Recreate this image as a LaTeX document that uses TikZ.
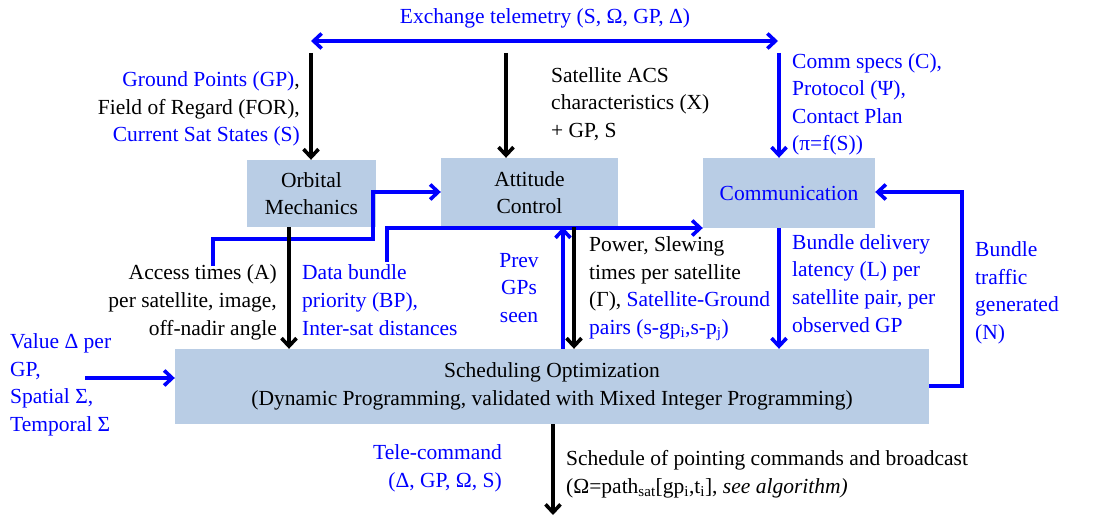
\documentclass[tikz,border=0pt]{standalone}
\usepackage{fontspec}
\setmainfont{Liberation Serif}
\usetikzlibrary{arrows.meta}
\definecolor{boxfill}{HTML}{B9CDE5}
\definecolor{linkblue}{HTML}{0000FF}
\tikzset{barb/.tip={Straight Barb[length=8pt,width=15pt,line width=3.6pt]}}

\begin{document}
\begin{tikzpicture}[x=1pt,y=-1pt,
  every node/.style={font=\fontsize{21.5}{27.6}\selectfont, inner sep=0pt},
  block/.style={fill=boxfill, draw=none, align=center},
  flow/.style={line width=3.8pt, black, -{barb}},
  bflow/.style={line width=3.8pt, linkblue, -{barb}},
  lab/.style={text=black},
  blab/.style={text=linkblue}
]
\useasboundingbox (0,0) rectangle (1104,516);

% processing blocks
\node[block, minimum width=129pt, minimum height=67pt] (orb) at (311.5,193.5) {Orbital\\Mechanics};
\node[block, minimum width=177pt, minimum height=69pt] (att) at (529.5,192.5) {Attitude\\Control};
\node[block, minimum width=172pt, minimum height=70pt, text=linkblue] (com) at (789,193) {Communication};
\node[block, minimum width=754pt, minimum height=75pt] (sch) at (552,386.5)
  {Scheduling Optimization\\(Dynamic Programming, validated with Mixed Integer Programming)};

% telemetry exchange
\coordinate (tl) at (311,41);
\coordinate (tr) at (778,41);
\draw[line width=3.8pt, linkblue, {barb}-{barb}] (tl) -- (tr);
\node[blab, anchor=base] (ltel) at (545,24) {Exchange telemetry (S, Ω, GP, Δ)};

% inputs from above
\coordinate (io) at (311,53);
\coordinate (ia) at (506,53);
\coordinate (ic) at (779,53);
\draw[flow] (io) -- (io |- orb.north);
\draw[flow] (ia) -- (ia |- att.north);
\draw[bflow] (ic) -- (ic |- com.north);

% (multi-line labels are anchored at the baseline of their last line)
\node[lab, anchor=base east, align=right] (lgp) at (300,142)
  {\textcolor{linkblue}{Ground Points (GP)},\\Field of Regard (FOR),\\\textcolor{linkblue}{Current Sat States (S)}};
\node[lab, anchor=base west, align=left] (lacs) at (551,137.5)
  {Satellite ACS\\characteristics (X)\\+ GP, S};
\node[blab, anchor=base west, align=left] (lcom) at (792,151)
  {Comm specs (C),\\Protocol (Ψ),\\Contact Plan\\(π=f(S))};

% orbital mechanics -> attitude control
\coordinate (oa0) at (213,266);
\coordinate (oa1) at (213,239);
\coordinate (oa2) at (373,239);
\coordinate (oa3) at (373,192);
\draw[bflow] (oa0) -- (oa1) -- (oa2) -- (oa3) -- (oa3 -| att.west);

% data bundle priority -> communication
\coordinate (db0) at (387,262);
\coordinate (db1) at (387,228);
\draw[bflow] (db0) -- (db1) -- (db1 -| com.west);

% links into and out of the scheduler
\coordinate (xo) at (289,0);
\coordinate (xp) at (563,0);
\coordinate (xs) at (574,0);
\coordinate (xc) at (779,0);
\draw[flow] (xo |- orb.south) -- (xo |- sch.north);
\draw[bflow] (xp |- sch.north) -- (xp |- att.south);
\draw[flow] (xs |- att.south) -- (xs |- sch.north);
\draw[bflow] (xc |- com.south) -- (xc |- sch.north);

\node[lab, anchor=base east, align=right] (lacc) at (277,335)
  {Access times (A)\\per satellite, image,\\off-nadir angle};
\node[blab, anchor=base west, align=left] (ldb) at (302,335)
  {Data bundle\\priority (BP),\\Inter-sat distances};
\node[blab, anchor=base, align=center] (lprev) at (519,322.5)
  {Prev\\GPs\\seen};
\node[lab, anchor=base west, align=left] (lpow) at (589,334.5)
  {Power, Slewing\\times per satellite\\(Γ), \textcolor{linkblue}{Satellite-Ground}\\\textcolor{linkblue}{pairs (s-gp\textsubscript{i},s-p\textsubscript{j})}};
\node[blab, anchor=base west, align=left] (llat) at (792,332)
  {Bundle delivery\\latency (L) per\\satellite pair, per\\observed GP};

% bundle traffic feedback
\coordinate (bt1) at (962,386);
\coordinate (bt2) at (962,192);
\draw[bflow] (bt1 -| sch.east) -- (bt1) -- (bt2) -- (bt2 -| com.east);
\node[blab, anchor=base west, align=left] (lbt) at (975,339.5)
  {Bundle\\traffic\\generated\\(N)};

% value input
\coordinate (v0) at (85,378);
\draw[bflow] (v0) -- (v0 -| sch.west);
\node[blab, anchor=base west, align=left] (lval) at (10,431.5)
  {Value Δ per\\GP,\\Spatial Σ,\\Temporal Σ};

% output commands
\coordinate (out) at (553,515);
\draw[flow] (out |- sch.south) -- (out);
\node[blab, anchor=base east, align=right] (ltc) at (502,487)
  {Tele-command\\(Δ, GP, Ω, S)};
\node[lab, anchor=base west, align=left] (lsch) at (566,493.5)
  {Schedule of pointing commands and broadcast\\(Ω=path\textsubscript{sat}[gp\textsubscript{i},t\textsubscript{i}], \textit{see algorithm)}};
\end{tikzpicture}
\end{document}
